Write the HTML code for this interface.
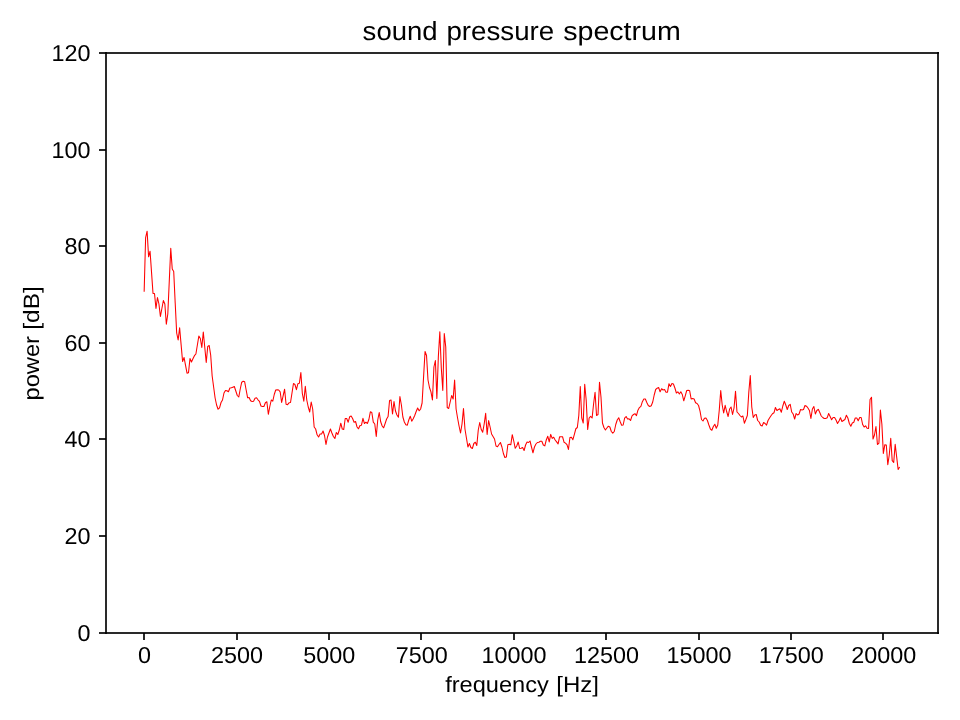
<!DOCTYPE html>
<html lang="en">
<head>
<meta charset="utf-8">
<title>sound pressure spectrum</title>
<style>
html,body{margin:0;padding:0;background:#ffffff;}
body{width:960px;height:720px;overflow:hidden;}
svg{display:block;will-change:transform;}
text{text-rendering:geometricPrecision;font-family:"Liberation Sans",sans-serif;fill:#000000;}
.tick{font-size:23px;}
.lab{font-size:22.2px;}
.ttl{font-size:26.3px;}
.ax{fill:#2a2a2a;shape-rendering:crispEdges;}
</style>
</head>
<body>
<svg width="960" height="720" viewBox="0 0 960 720">
<rect x="0" y="0" width="960" height="720" fill="#ffffff"/>
<g id="line">
<polyline fill="none" stroke="#ff0000" stroke-width="1.06" stroke-linejoin="round" stroke-linecap="butt" points="144.15,291.8 145.63,237.5 147.11,231.2 148.59,256.8 150.06,251.2 151.54,272.35 153.02,293.5 154.5,293.5 155.98,308.5 157.46,297.5 158.93,304 160.41,316.5 161.89,308.5 163.37,300.5 164.85,304 166.33,324.3 167.8,314 169.28,281.1 170.76,248.2 172.24,269 173.72,271.5 175.2,303 176.67,333 178.15,340 179.63,327.8 181.11,344.65 182.59,361.5 184.07,357.5 185.55,365.35 187.02,373.2 188.5,372.8 189.98,358.5 191.46,362 192.94,358.85 194.42,355.7 195.89,354 197.37,345 198.85,336 200.33,338.5 201.81,347.5 203.29,332 204.76,347.25 206.24,362.5 207.72,346.5 209.2,345.5 210.68,355 212.16,376 213.63,387 215.11,398 216.59,405 218.07,409.2 219.55,407.8 221.03,402.5 222.51,400 223.98,393 225.46,390.5 226.94,390.8 228.42,391.8 229.9,388 231.38,387.8 232.85,387.15 234.33,386.5 235.81,391 237.29,395.5 238.77,397 240.25,389 241.72,382.2 243.2,381.2 244.68,381.8 246.16,390 247.64,397.8 249.12,397.5 250.59,400.8 252.07,401.5 253.55,401.2 255.03,398.2 256.51,397.7 257.99,399.8 259.47,401.3 260.94,406 262.42,406.5 263.9,406.5 265.38,402.8 266.86,401.8 268.34,414.3 269.81,406.5 271.29,400 272.77,401.2 274.25,394.5 275.73,390 277.21,389.7 278.68,390 280.16,391.8 281.64,402.5 283.12,395.85 284.6,389.2 286.08,404.2 287.55,404.7 289.03,402.8 290.51,402.5 291.99,393 293.47,383.5 294.95,384.5 296.43,389.7 297.9,383.7 299.38,383.3 300.86,372.5 302.34,393.5 303.82,401.2 305.3,386.2 306.77,400 308.25,407 309.73,412 311.21,402 312.69,409 314.17,427 315.64,429 317.12,434.8 318.6,437 320.08,434 321.56,434 323.04,431 324.51,435.5 325.99,444.5 327.47,437 328.95,433 330.43,429 331.91,433 333.39,436.5 334.86,438.5 336.34,432.5 337.82,434.5 339.3,430 340.78,423.2 342.26,429 343.73,429.5 345.21,418.5 346.69,418.5 348.17,422.2 349.65,416.8 351.13,416 352.6,418.5 354.08,422.2 355.56,421.5 357.04,427 358.52,428.8 360,425.5 361.47,425.2 362.95,418.3 364.43,423.5 365.91,422.2 367.39,423.5 368.87,419.5 370.35,411.8 371.82,412.5 373.3,422.2 374.78,424 376.26,436.5 377.74,420 379.22,412.5 380.69,421.8 382.17,426 383.65,427.8 385.13,423.5 386.61,419 388.09,416.5 389.56,400.5 391.04,400 392.52,414 394,401.5 395.48,411 396.96,415 398.43,417.2 399.91,396.5 401.39,405 402.87,417 404.35,422 405.83,424.8 407.31,425.2 408.78,420 410.26,416.2 411.74,421.2 413.22,418.8 414.7,415.5 416.18,411.5 417.65,408 419.13,410.8 420.61,409 422.09,403 423.57,377 425.05,351.5 426.52,355.5 428,380 429.48,387.5 430.96,391.8 432.44,400 433.92,367 435.39,360.5 436.87,398.5 438.35,356.5 439.83,331.8 441.31,368 442.79,390.5 444.27,333.5 445.74,347 447.22,407.5 448.7,408.5 450.18,402 451.66,395.5 453.14,399 454.61,380 456.09,409 457.57,418 459.05,426 460.53,433 462.01,424 463.48,408.5 464.96,429 466.44,438 467.92,447 469.4,443.5 470.88,447.5 472.35,448.5 473.83,443.5 475.31,442.2 476.79,445.5 478.27,430 479.75,422.5 481.23,429.5 482.7,432.2 484.18,424 485.66,413.2 487.14,434.5 488.62,420.5 490.1,427 491.57,434 493.05,436.5 494.53,439 496.01,446 497.49,446.8 498.97,444.5 500.44,442.5 501.92,447 503.4,453.5 504.88,457.5 506.36,457 507.84,444.7 509.31,444.2 510.79,444.8 512.27,434.7 513.75,441 515.23,448.3 516.71,446 518.19,442 519.66,448.5 521.14,448.3 522.62,447.5 524.1,450.5 525.58,445 527.06,442 528.53,442.5 530.01,441 531.49,447 532.97,452.8 534.45,447 535.93,444 537.4,442.5 538.88,442.2 540.36,441.3 541.84,441.2 543.32,445 544.8,445.9 546.27,440 547.75,436.2 549.23,441.9 550.71,434.4 552.19,438.4 553.67,437.2 555.15,440 556.62,441.9 558.1,443.9 559.58,436.9 561.06,436.8 562.54,436.75 564.02,442.2 565.49,443.1 566.97,444.7 568.45,449.4 569.93,437.5 571.41,437.2 572.89,439.7 574.36,434.4 575.84,428.75 577.32,427.5 578.8,415.5 580.28,386.5 581.76,418 583.23,423 584.71,384.2 586.19,400 587.67,429.5 589.15,418 590.63,416.4 592.11,418 593.58,404 595.06,392.2 596.54,415.5 598.02,414.5 599.5,382.2 600.98,397 602.45,423 603.93,427.5 605.41,430 606.89,428 608.37,426.2 609.85,427 611.32,431.5 612.8,433.2 614.28,431.5 615.76,424.5 617.24,420 618.72,417.8 620.19,421.8 621.67,425.3 623.15,425 624.63,418.2 626.11,416.5 627.59,419 629.07,418.8 630.54,420.5 632.02,415.8 633.5,414.5 634.98,413.7 636.46,415.6 637.94,410.2 639.41,407.6 640.89,406.4 642.37,401.7 643.85,399 645.33,399 646.81,402.5 648.28,405.5 649.76,406.5 651.24,405.8 652.72,402 654.2,395 655.68,389.5 657.15,388.2 658.63,387.5 660.11,391.8 661.59,388.7 663.07,390 664.55,389.5 666.03,392.2 667.5,392.2 668.98,383.7 670.46,386.5 671.94,383.5 673.42,384 674.9,388 676.37,393 677.85,391.8 679.33,394 680.81,391.8 682.29,394.5 683.77,400.8 685.24,395.8 686.72,390.5 688.2,390.2 689.68,390.8 691.16,399 692.64,398.5 694.11,399 695.59,402.8 697.07,403.5 698.55,405.5 700.03,411.2 701.51,419.5 702.99,421 704.46,418.2 705.94,418 707.42,420.5 708.9,425 710.38,429 711.86,430.3 713.33,426.5 714.81,424.2 716.29,428.2 717.77,425 719.25,410.2 720.73,390.5 722.2,405 723.68,413 725.16,405.3 726.64,411.5 728.12,416.5 729.6,409 731.07,407 732.55,414.5 734.03,408 735.51,391.2 736.99,412 738.47,413.5 739.95,415.5 741.42,417 742.9,416 744.38,423.2 745.86,419.5 747.34,415.5 748.82,392 750.29,375.5 751.77,407 753.25,417.5 754.73,415 756.21,414.5 757.69,420.5 759.16,422 760.64,425.3 762.12,426 763.6,422.5 765.08,423.5 766.56,425.2 768.03,420.5 769.51,418 770.99,415.8 772.47,413.8 773.95,412.8 775.43,407.5 776.91,410.5 778.38,409.5 779.86,408.8 781.34,412.2 782.82,406 784.3,401.2 785.78,405 787.25,409.5 788.73,405.5 790.21,404.3 791.69,412 793.17,414 794.65,419 796.12,413.5 797.6,415 799.08,414 800.56,409.5 802.04,410 803.52,409.5 804.99,405.5 806.47,406.2 807.95,408 809.43,410.5 810.91,418.5 812.39,409 813.87,406.5 815.34,414 816.82,410.5 818.3,409.3 819.78,412.5 821.26,416 822.74,417.5 824.21,418.5 825.69,418.5 827.17,417.8 828.65,413.5 830.13,416.5 831.61,419.8 833.08,417.5 834.56,417.5 836.04,420 837.52,423.5 839,421 840.48,417.8 841.95,421.5 843.43,420.5 844.91,419.5 846.39,415.2 847.87,418 849.35,423.5 850.83,426.2 852.3,423 853.78,422.2 855.26,418 856.74,418 858.22,420.8 859.7,417.5 861.17,417.5 862.65,424.5 864.13,427 865.61,425.8 867.09,428.3 868.57,428.5 870.04,399.5 871.52,397.2 873,439 874.48,435 875.96,426.5 877.44,444.5 878.91,443.2 880.39,410 881.87,424 883.35,453.4 884.83,444.7 886.31,445 887.79,464.7 889.26,455 890.74,438.4 892.22,460.6 893.7,462.5 895.18,444.4 896.66,456.9 898.13,469.5 899.61,466.9"/>
</g>
<g id="spines" class="ax">
<rect x="105" y="52" width="834" height="2"/>
<rect x="105" y="632" width="834" height="2"/>
<rect x="105" y="52" width="2" height="582"/>
<rect x="937" y="52" width="2" height="582"/>
</g>
<g id="xticks" class="ax">
<rect x="143" y="634" width="2" height="6"/>
<rect x="236" y="634" width="2" height="6"/>
<rect x="328" y="634" width="2" height="6"/>
<rect x="420" y="634" width="2" height="6"/>
<rect x="513" y="634" width="2" height="6"/>
<rect x="605" y="634" width="2" height="6"/>
<rect x="698" y="634" width="2" height="6"/>
<rect x="790" y="634" width="2" height="6"/>
<rect x="882" y="634" width="2" height="6"/>
</g>
<g id="yticks" class="ax">
<rect x="99" y="632" width="6" height="2"/>
<rect x="99" y="535" width="6" height="2"/>
<rect x="99" y="438" width="6" height="2"/>
<rect x="99" y="342" width="6" height="2"/>
<rect x="99" y="245" width="6" height="2"/>
<rect x="99" y="149" width="6" height="2"/>
<rect x="99" y="52" width="6" height="2"/>
</g>
<g id="overlaps" style="fill:#070707;shape-rendering:crispEdges;">
<rect x="143" y="633" width="2" height="1"/>
<rect x="236" y="633" width="2" height="1"/>
<rect x="328" y="633" width="2" height="1"/>
<rect x="420" y="633" width="2" height="1"/>
<rect x="513" y="633" width="2" height="1"/>
<rect x="605" y="633" width="2" height="1"/>
<rect x="698" y="633" width="2" height="1"/>
<rect x="790" y="633" width="2" height="1"/>
<rect x="882" y="633" width="2" height="1"/>
<rect x="105" y="632" width="1" height="2"/>
<rect x="105" y="535" width="1" height="2"/>
<rect x="105" y="438" width="1" height="2"/>
<rect x="105" y="342" width="1" height="2"/>
<rect x="105" y="245" width="1" height="2"/>
<rect x="105" y="149" width="1" height="2"/>
<rect x="105" y="52" width="1" height="2"/>
<rect x="105" y="52" width="2" height="2"/>
<rect x="937" y="52" width="2" height="2"/>
<rect x="105" y="632" width="2" height="2"/>
<rect x="937" y="632" width="2" height="2"/>
</g>
<g id="xticklabels">
<text class="tick" x="144.5" y="663" text-anchor="middle" textLength="13" lengthAdjust="spacingAndGlyphs">0</text>
<text class="tick" x="236.9" y="663" text-anchor="middle" textLength="52" lengthAdjust="spacingAndGlyphs">2500</text>
<text class="tick" x="329.3" y="663" text-anchor="middle" textLength="52" lengthAdjust="spacingAndGlyphs">5000</text>
<text class="tick" x="421.7" y="663" text-anchor="middle" textLength="52" lengthAdjust="spacingAndGlyphs">7500</text>
<text class="tick" x="514.1" y="663" text-anchor="middle" textLength="65" lengthAdjust="spacingAndGlyphs">10000</text>
<text class="tick" x="606.5" y="663" text-anchor="middle" textLength="65" lengthAdjust="spacingAndGlyphs">12500</text>
<text class="tick" x="698.9" y="663" text-anchor="middle" textLength="65" lengthAdjust="spacingAndGlyphs">15000</text>
<text class="tick" x="791.3" y="663" text-anchor="middle" textLength="65" lengthAdjust="spacingAndGlyphs">17500</text>
<text class="tick" x="883.7" y="663" text-anchor="middle" textLength="65" lengthAdjust="spacingAndGlyphs">20000</text>
</g>
<g id="yticklabels">
<text class="tick" x="90.4" y="641" text-anchor="end" textLength="13" lengthAdjust="spacingAndGlyphs">0</text>
<text class="tick" x="90.4" y="544" text-anchor="end" textLength="26" lengthAdjust="spacingAndGlyphs">20</text>
<text class="tick" x="90.4" y="447" text-anchor="end" textLength="26" lengthAdjust="spacingAndGlyphs">40</text>
<text class="tick" x="90.4" y="351" text-anchor="end" textLength="26" lengthAdjust="spacingAndGlyphs">60</text>
<text class="tick" x="90.4" y="254" text-anchor="end" textLength="26" lengthAdjust="spacingAndGlyphs">80</text>
<text class="tick" x="90.4" y="158" text-anchor="end" textLength="39" lengthAdjust="spacingAndGlyphs">100</text>
<text class="tick" x="90.4" y="61" text-anchor="end" textLength="39" lengthAdjust="spacingAndGlyphs">120</text>
</g>
<text class="ttl" y="39.9" text-anchor="start"><tspan x="362.63" textLength="74.94" lengthAdjust="spacingAndGlyphs">sound</tspan> <tspan x="446.41" textLength="107.82" lengthAdjust="spacingAndGlyphs">pressure</tspan> <tspan x="563.2" textLength="117.68" lengthAdjust="spacingAndGlyphs">spectrum</tspan></text>
<text class="lab" y="691.8" text-anchor="start"><tspan x="445.17" textLength="103.68" lengthAdjust="spacingAndGlyphs">frequency</tspan> <tspan x="556.29" textLength="42.73" lengthAdjust="spacingAndGlyphs">[Hz]</tspan></text>
<g transform="translate(39,343.45) rotate(-90)">
<text class="lab" y="0" text-anchor="start"><tspan x="-57.08" textLength="64.52" lengthAdjust="spacingAndGlyphs">power</tspan> <tspan x="13.7" textLength="43.7" lengthAdjust="spacingAndGlyphs">[dB]</tspan></text>
</g>
</svg>
</body>
</html>
